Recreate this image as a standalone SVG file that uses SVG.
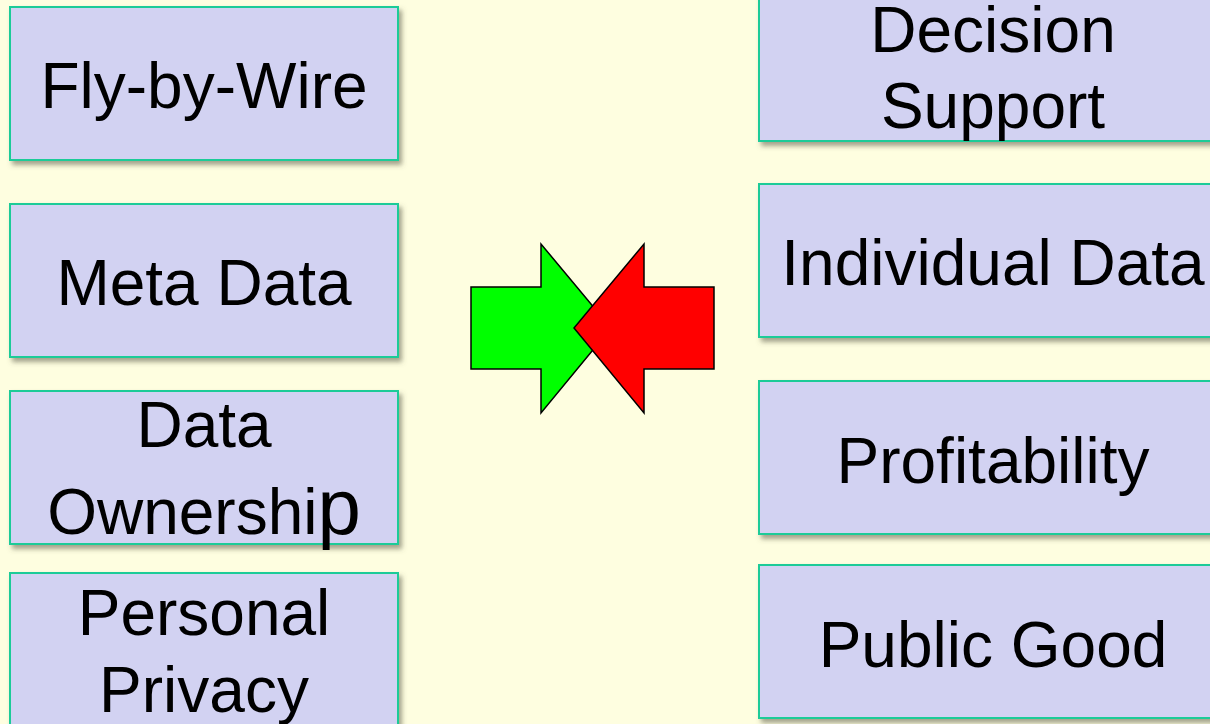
<svg xmlns="http://www.w3.org/2000/svg" width="1210" height="724" viewBox="0 0 1210 724">
  <defs>
    <filter id="shadow" x="-5%" y="-5%" width="115%" height="120%">
      <feDropShadow dx="3" dy="4" stdDeviation="2.5" flood-color="#555544" flood-opacity="0.55"/>
    </filter>
  </defs>
  <style>
    .box { fill: #D2D2F2; stroke: #1FCB98; stroke-width: 2; filter: url(#shadow); }
    .label { font-family: "Liberation Sans", Arial, sans-serif; font-size: 64px; fill: #000; text-anchor: middle; }
    .arrow { stroke: #000; stroke-width: 1.5; stroke-linejoin: miter; }
  </style>

  <rect x="0" y="0" width="1210" height="724" fill="#FEFEE0"/>

  <!-- left column -->
  <g id="fly-by-wire">
    <rect class="box" x="10" y="7" width="388" height="153"/>
    <text class="label" x="204" y="108">Fly-by-Wire</text>
  </g>
  <g id="meta-data">
    <rect class="box" x="10" y="204" width="388" height="153"/>
    <text class="label" x="204" y="305">Meta Data</text>
  </g>
  <g id="data-ownership">
    <rect class="box" x="10" y="391" width="388" height="153"/>
    <text class="label" x="204" y="447">Data</text>
    <text class="label" x="204" y="534">Ownershi<tspan font-size="78">p</tspan></text>
  </g>
  <g id="personal-privacy">
    <rect class="box" x="10" y="573" width="388" height="153"/>
    <text class="label" x="204" y="635">Personal</text>
    <text class="label" x="204" y="712">Privacy</text>
  </g>

  <!-- right column -->
  <g id="decision-support">
    <rect class="box" x="759" y="-12" width="468" height="153"/>
    <text class="label" x="993" y="52">Decision</text>
    <text class="label" x="993" y="128">Support</text>
  </g>
  <g id="individual-data">
    <rect class="box" x="759" y="184" width="468" height="153"/>
    <text class="label" x="993" y="285">Individual Data</text>
  </g>
  <g id="profitability">
    <rect class="box" x="759" y="381" width="468" height="153"/>
    <text class="label" x="993" y="483">Profitability</text>
  </g>
  <g id="public-good">
    <rect class="box" x="759" y="565" width="468" height="153"/>
    <text class="label" x="993" y="667">Public Good</text>
  </g>

  <!-- opposing arrows -->
  <g id="connectors">
    <polygon class="arrow" fill="#00FF00" points="471,287 541,287 541,244 611,328 541,413 541,369 471,369"/>
    <polygon class="arrow" fill="#FF0000" points="714,287 644,287 644,244 574,328 644,413 644,369 714,369"/>
  </g>
</svg>
